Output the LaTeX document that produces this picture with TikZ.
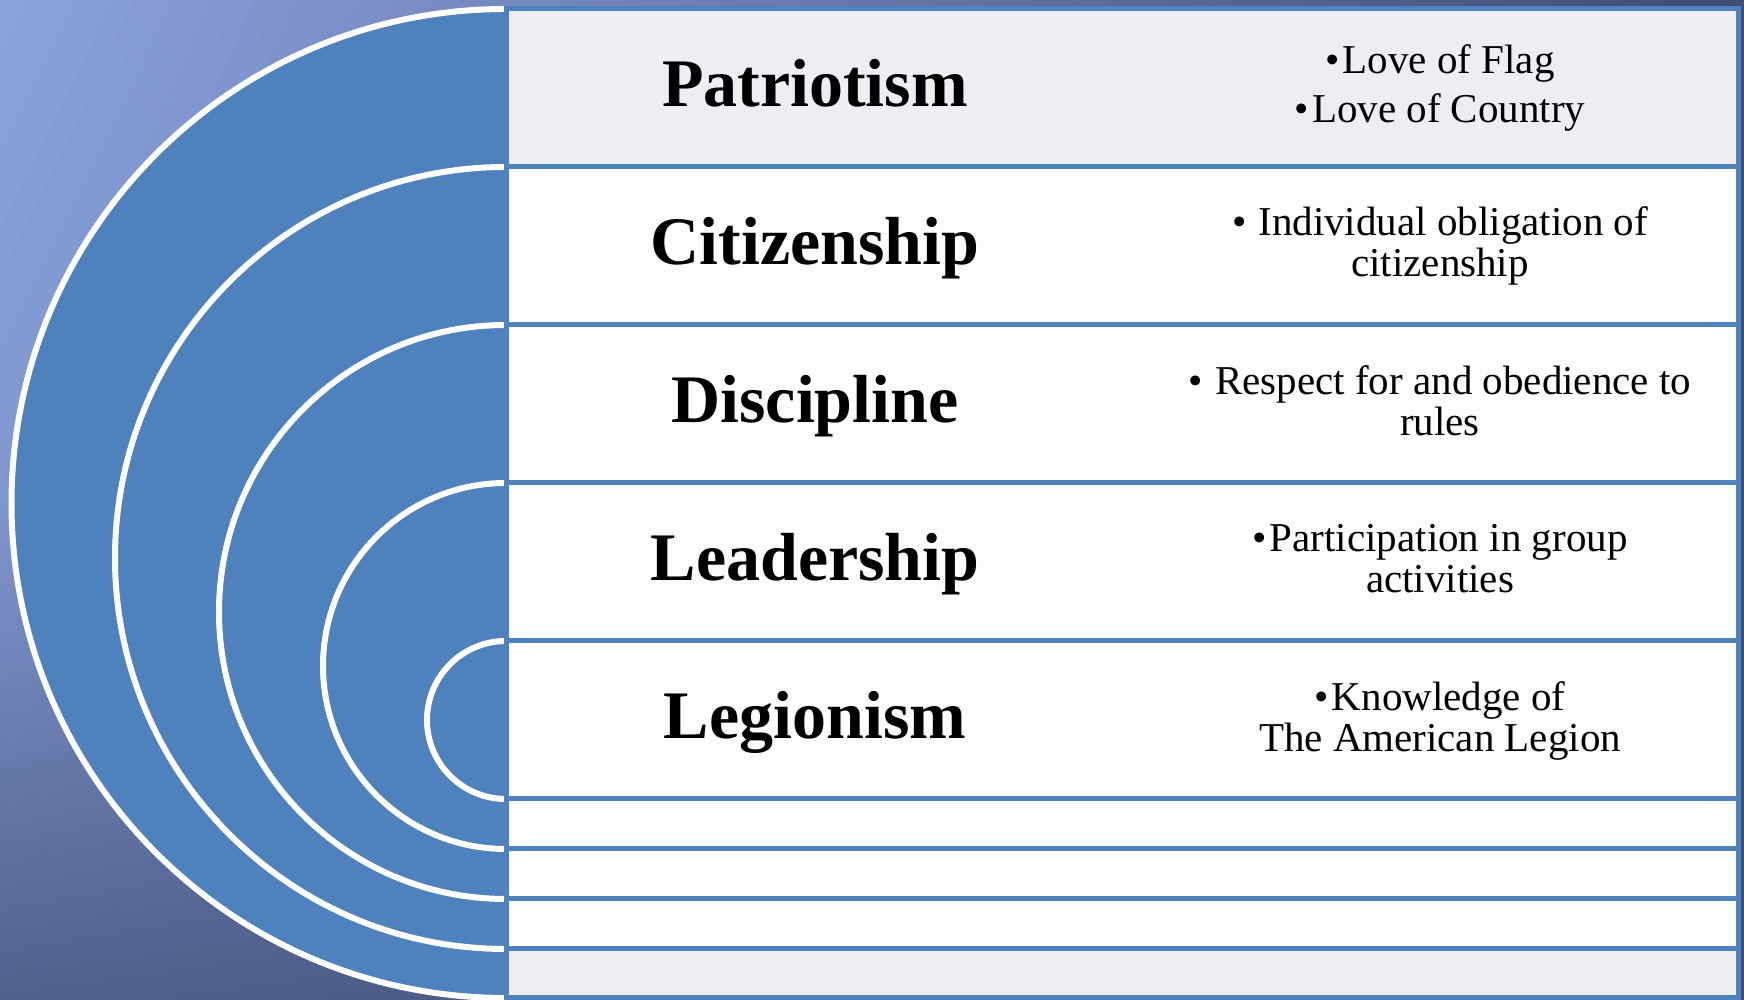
\documentclass[tikz,border=0pt]{standalone}
\usepackage{fontspec}
\setmainfont{Liberation Serif}
\usetikzlibrary{shadings}
\definecolor{arcblue}{HTML}{4F81BD}
\definecolor{bgtl}{HTML}{8CA2DC}
\definecolor{bgml}{HTML}{7F96CE}
\definecolor{bgbl}{HTML}{50618B}
\definecolor{bgtr}{HTML}{3F4C74}
\definecolor{bgmr}{HTML}{3F4C74}
\definecolor{bgbr}{HTML}{3F4C74}
\definecolor{greyfill}{HTML}{ECEEF3}
\definecolor{whitefill}{HTML}{FDFDFD}
\tikzset{
  boxline/.style={draw=arcblue, line width=5pt},
  discfill/.style={fill=arcblue},
  discedge/.style={draw=white, line width=6pt},
  discshadow/.style={fill=black, opacity=0.22, shift={(2,-3)}},
  labeltext/.style={font=\fontsize{68}{78}\selectfont\bfseries, anchor=base, inner sep=0pt},
  desctext/.style={font=\fontsize{41}{41}\selectfont, anchor=base, align=center, inner sep=0pt}
}
\begin{document}
\begin{tikzpicture}[x=1pt,y=1pt]
\useasboundingbox (0,0) rectangle (1744,1000);
% background
\shade[upper left=bgtl, upper right=bgtr, lower left=bgml, lower right=bgmr] (0,500) rectangle (1744,1000);
\shade[upper left=bgml, upper right=bgmr, lower left=bgbl, lower right=bgbr] (0,0) rectangle (1744,500.5);
% half discs
\foreach \yt/\r in {991/494.5, 833/391, 675/287, 517/183, 359/79} {
  \fill[discshadow] (506,\yt) arc[start angle=90, end angle=270, radius=\r] -- cycle;
  \fill[discfill] (506,\yt) arc[start angle=90, end angle=270, radius=\r] -- cycle;
  \draw[discedge] (506,\yt) arc[start angle=90, end angle=270, radius=\r];
}
% boxes
\draw[boxline, fill=greyfill] (506,2) rectangle (1738,991);
\draw[boxline, fill=whitefill] (506,51) rectangle (1738,833);
\draw[boxline, fill=whitefill] (506,101) rectangle (1738,675);
\draw[boxline, fill=whitefill] (506,151) rectangle (1738,517);
\draw[boxline, fill=whitefill] (506,201) rectangle (1738,359);
% labels
\node[labeltext] (l1) at (815,893) {Patriotism};
\node[labeltext] (l2) at (815,735) {Citizenship};
\node[labeltext] (l3) at (815,577) {Discipline};
\node[labeltext] (l4) at (815,419) {Leadership};
\node[labeltext] (l5) at (815,261) {Legionism};
% descriptions (anchor = baseline of the last line)
\node[desctext] (d1) at (1440,877) {\textbullet\hspace{3pt}Love of Flag\\[8pt]\textbullet\hspace{3pt}Love of Country};
\node[desctext] (d2) at (1440,723) {\textbullet\hspace{12pt}Individual obligation of\\citizenship};
\node[desctext] (d3) at (1440,564) {\textbullet\hspace{12pt}Respect for and obedience to\\rules};
\node[desctext] (d4) at (1440,407) {\textbullet\hspace{3pt}Participation in group\\activities};
\node[desctext] (d5) at (1440,248) {\textbullet\hspace{3pt}Knowledge of\\The American Legion};
\end{tikzpicture}
\end{document}
